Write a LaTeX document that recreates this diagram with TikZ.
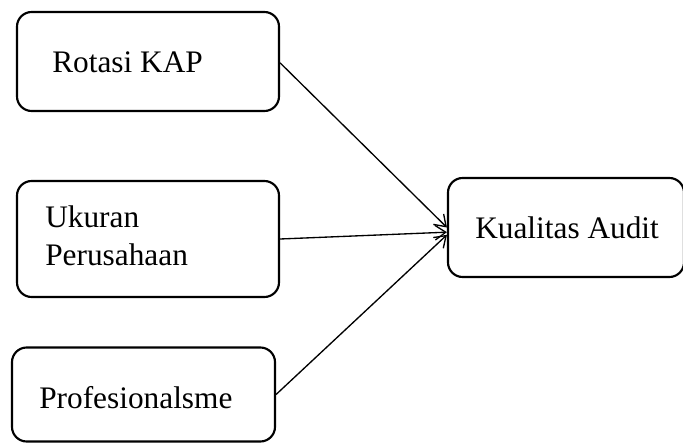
\documentclass[tikz,border=0pt]{standalone}
\usepackage{fontspec}
\setmainfont{Liberation Serif}
\usetikzlibrary{arrows.meta}
\begin{document}
\begin{tikzpicture}[x=0.75pt,y=-0.75pt,
  box/.style={draw,line width=1.6pt,rounded corners=11pt,inner sep=0pt},
  lbl/.style={anchor=base west,inner sep=0pt,font=\fontsize{23.5}{28}\selectfont},
  conn/.style={line width=1pt,-{Straight Barb[length=8pt,width=11pt,line width=1pt]}}]
\useasboundingbox (0,0) rectangle (683,443);
\node[box,minimum width=196.5pt,minimum height=74.25pt] (r) at (148,61.5) {};
\node[box,minimum width=196.5pt,minimum height=87pt] (u) at (148,239) {};
\node[box,minimum width=197.25pt,minimum height=70.5pt] (p) at (143.5,394.5) {};
\node[box,minimum width=177pt,minimum height=74.25pt] (k) at (566,227.5) {};
\node[lbl] (rt) at (52,72) {Rotasi KAP};
\node[lbl] (ut1) at (45,227) {Ukuran};
\node[lbl] (ut2) at (45,265) {Perusahaan};
\node[lbl] (pt) at (39,408) {Profesionalsme};
\node[lbl] (kt) at (475,238) {Kualitas Audit};
\draw[conn] ([yshift=-1pt]r.east) -- (k.west);
\draw[conn] (u.east) -- ([yshift=-3.5pt]k.west);
\draw[conn] (p.east) -- ([yshift=-5.5pt]k.west);
\end{tikzpicture}
\end{document}
